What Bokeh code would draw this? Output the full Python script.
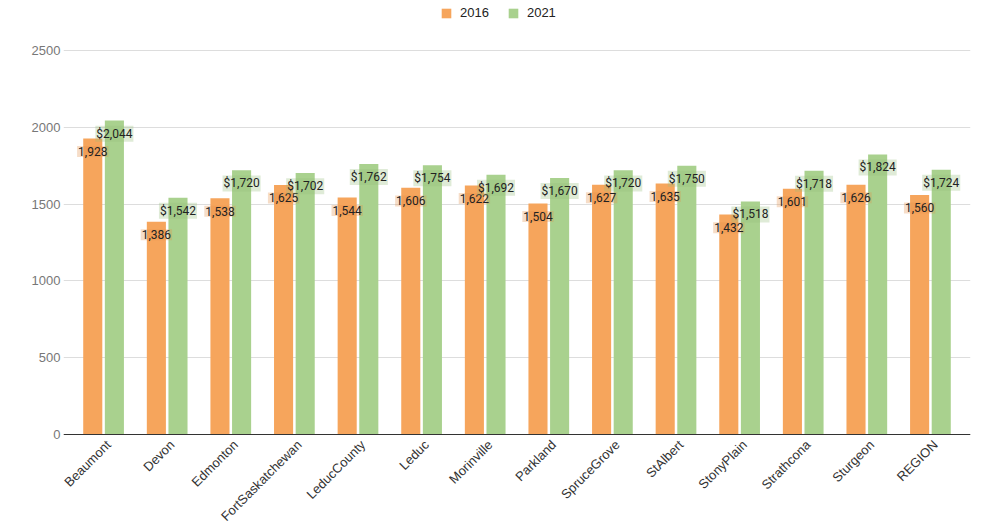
from bokeh.plotting import figure
from bokeh.models import ColumnDataSource, FactorRange, Range1d, FixedTicker, LabelSet, Span
from bokeh.transform import dodge
from bokeh.core.properties import value
from bokeh.embed import file_html
from bokeh.resources import INLINE
import math

categories = ["Beaumont", "Devon", "Edmonton", "FortSaskatchewan", "LeducCounty", "Leduc",
              "Morinville", "Parkland", "SpruceGrove", "StAlbert", "StonyPlain", "Strathcona",
              "Sturgeon", "REGION"]
values_2016 = [1928, 1386, 1538, 1625, 1544, 1606, 1622, 1504, 1627, 1635, 1432, 1601, 1626, 1560]
values_2021 = [2044, 1542, 1720, 1702, 1762, 1754, 1692, 1670, 1720, 1750, 1518, 1718, 1824, 1724]
y_ticks = [0, 500, 1000, 1500, 2000, 2500]

ORANGE = "#F6A55C"
GREEN = "#A9D18E"

label_drop = 85  # data units below bar top where value label sits

source = ColumnDataSource(dict(
    cat=categories,
    zero=[0] * len(categories),
    v16=values_2016,
    v21=values_2021,
    l16=[f"{v:,}" for v in values_2016],
    l21=[f"${v:,}" for v in values_2021],
    y16=[v - label_drop for v in values_2016],
    y21=[v - label_drop for v in values_2021],
))

p = figure(
    width=984, height=526,
    x_range=FactorRange(*categories, range_padding=0.13, range_padding_units="absolute"),
    y_range=Range1d(-599, 2826),
    output_backend="svg", toolbar_location=None,
    min_border_left=63, min_border_right=14, min_border_top=0, min_border_bottom=0,
)
p.outline_line_color = None
p.background_fill_color = "white"
p.border_fill_color = "white"

p.vbar(x=dodge("cat", -0.17, range=p.x_range), top="v16", width=0.3, source=source,
       fill_color=ORANGE, line_color=None, legend_label="2016")
p.vbar(x=dodge("cat", 0.17, range=p.x_range), top="v21", width=0.3, source=source,
       fill_color=GREEN, line_color=None, legend_label="2021")

p.text(x=dodge("cat", -0.17, range=p.x_range), y="y16", text="l16", source=source,
       text_align="center", text_baseline="middle", text_font=value("Roboto"),
       text_font_size="12px", text_color="#222222",
       background_fill_color="#E0904A", background_fill_alpha=0.3, padding=1)
p.text(x=dodge("cat", 0.17, range=p.x_range), y="y21", text="l21", source=source,
       text_align="center", text_baseline="middle", text_font=value("Roboto"),
       text_font_size="12px", text_color="#222222",
       background_fill_color="#94BE7C", background_fill_alpha=0.3, padding=1)

# axes
p.xgrid.grid_line_color = None
p.ygrid.grid_line_color = "#DDDDDD"
p.ygrid.ticker = FixedTicker(ticks=y_ticks)
p.yaxis.ticker = FixedTicker(ticks=y_ticks)
p.yaxis.axis_line_color = None
p.yaxis.major_tick_line_color = None
p.yaxis.minor_tick_line_color = None
p.yaxis.major_tick_out = 0
p.yaxis.major_tick_in = 0
p.yaxis.major_label_standoff = 3
p.yaxis.major_label_text_font = "Liberation Sans"
p.yaxis.major_label_text_font_size = "13px"
p.yaxis.major_label_text_color = "#777777"

p.xaxis.visible = False
p.add_layout(Span(location=0, dimension="width", line_color="#333333", line_width=1))

xlabels = LabelSet(x="cat", y="zero", text="cat", source=source,
                   angle=math.pi / 4, text_align="right", text_baseline="middle",
                   x_offset=5, y_offset=-8,
                   text_font=value("Liberation Sans"), text_font_size="13px",
                   text_color="#333333")
p.add_layout(xlabels)

leg = p.legend[0]
leg.orientation = "horizontal"
leg.location = (377, 506)
leg.border_line_color = None
leg.background_fill_alpha = 0
leg.padding = 0
leg.margin = 0
leg.glyph_width = 12
leg.glyph_height = 12
leg.label_height = 12
leg.label_standoff = 8
leg.spacing = 18
leg.label_text_font = "Liberation Sans"
leg.label_text_font_size = "13px"
leg.label_text_color = "#222222"

open("out.html", "w").write(file_html(p, INLINE))
